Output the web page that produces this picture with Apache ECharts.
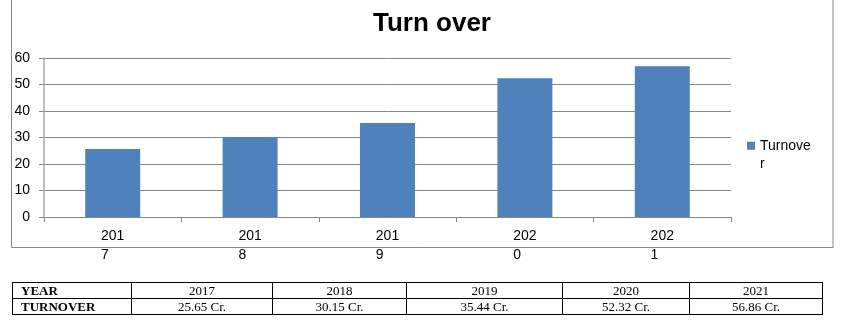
<!DOCTYPE html>
<html>
<head>
<meta charset="utf-8">
<script src="https://cdn.jsdelivr.net/npm/echarts@6/dist/echarts.min.js"></script>
<style>
  html, body { margin: 0; padding: 0; background: #fff; }
  #chart { position: absolute; left: 0; top: 0; width: 844px; height: 334px; }
  #tbl { position: absolute; left: 12px; top: 282px; width: 811px; table-layout: fixed; border-collapse: collapse;
         font-family: "Liberation Serif", "Times New Roman", serif; font-size: 13px; color: #000; }
  #tbl td { border: 1px solid #000; padding: 0; height: 15px; line-height: 15px; text-align: center;
            white-space: nowrap; overflow: hidden; }
  #tbl td.h { text-align: left; padding-left: 8px; font-weight: bold; }
</style>
</head>
<body>
<div id="chart"></div>
<table id="tbl"><colgroup id="cols"></colgroup></table>
<script>
const categories = ['2017', '2018', '2019', '2020', '2021'];
const turnover = [25.65, 30.15, 35.44, 52.32, 56.86];
const tableLabels = ['2017', '2018', '2019', '2020', '2021'];
const tableValues = ['25.65 Cr.', '30.15 Cr.', '35.44 Cr.', '52.32 Cr.', '56.86 Cr.'];
const seriesName = 'Turnover';
const titleText = 'Turn over';
const rowHeaders = ['YEAR', 'TURNOVER'];

const colWidths = [119, 141, 134, 156, 127, 133];
const tbl = document.getElementById('tbl');
const cols = document.getElementById('cols');
colWidths.forEach(w => {
  const c = document.createElement('col');
  c.style.width = w + 'px';
  cols.appendChild(c);
});
[[rowHeaders[0]].concat(tableLabels), [rowHeaders[1]].concat(tableValues)].forEach(row => {
  const tr = document.createElement('tr');
  row.forEach((v, i) => {
    const td = document.createElement('td');
    td.textContent = v;
    if (i === 0) td.className = 'h';
    tr.appendChild(td);
  });
  tbl.appendChild(tr);
});

const chart = echarts.init(document.getElementById('chart'), null, { renderer: 'canvas' });
const font = 'Arial, "Liberation Sans", sans-serif';
chart.setOption({
  animation: false,
  backgroundColor: '#fff',
  title: {
    text: titleText, left: 373, top: 11, padding: 0,
    textStyle: { fontFamily: font, fontSize: 26, fontWeight: 'bold', color: '#000' }
  },
  graphic: [{
    type: 'rect', z: -1, silent: true,
    shape: { x: 11.5, y: -5, width: 821.5, height: 252.5 },
    style: { fill: 'none', stroke: '#888', lineWidth: 1 }
  }],
  legend: {
    left: 747, top: 118, padding: 0,
    icon: 'rect', itemWidth: 8, itemHeight: 8,
    formatter: name => '\n' + name.slice(0, 7) + '\n' + name.slice(7),
    textStyle: { fontFamily: font, fontSize: 14, color: '#000', lineHeight: 18.5 },
    data: [seriesName]
  },
  grid: { left: 44, right: 113, top: 58, bottom: 117, containLabel: false },
  xAxis: {
    type: 'category', data: categories,
    axisLine: { lineStyle: { color: '#888', width: 1 } },
    axisTick: { show: true, length: 5, lineStyle: { color: '#888' } },
    axisLabel: {
      margin: 10, color: '#000', fontFamily: font, fontSize: 14, lineHeight: 18.5,
      formatter: v => '{a|' + v.slice(0, 3) + '}\n{a|' + v.slice(3) + '}',
      rich: { a: { align: 'left', fontFamily: font, fontSize: 14, lineHeight: 18.5, color: '#000' } }
    }
  },
  yAxis: {
    type: 'value', min: 0, max: 60, interval: 10,
    axisLine: { show: true, lineStyle: { color: '#bfbfbf', width: 2 } },
    axisTick: { show: true, length: 5, lineStyle: { color: '#888' } },
    axisLabel: { margin: 14, color: '#000', fontFamily: font, fontSize: 14 },
    splitLine: { show: true, lineStyle: { color: '#888', width: 1 } }
  },
  series: [{
    name: seriesName, type: 'bar', data: turnover, barWidth: '40%',
    itemStyle: { color: '#4F81BD' }
  }]
});
</script>
</body>
</html>
